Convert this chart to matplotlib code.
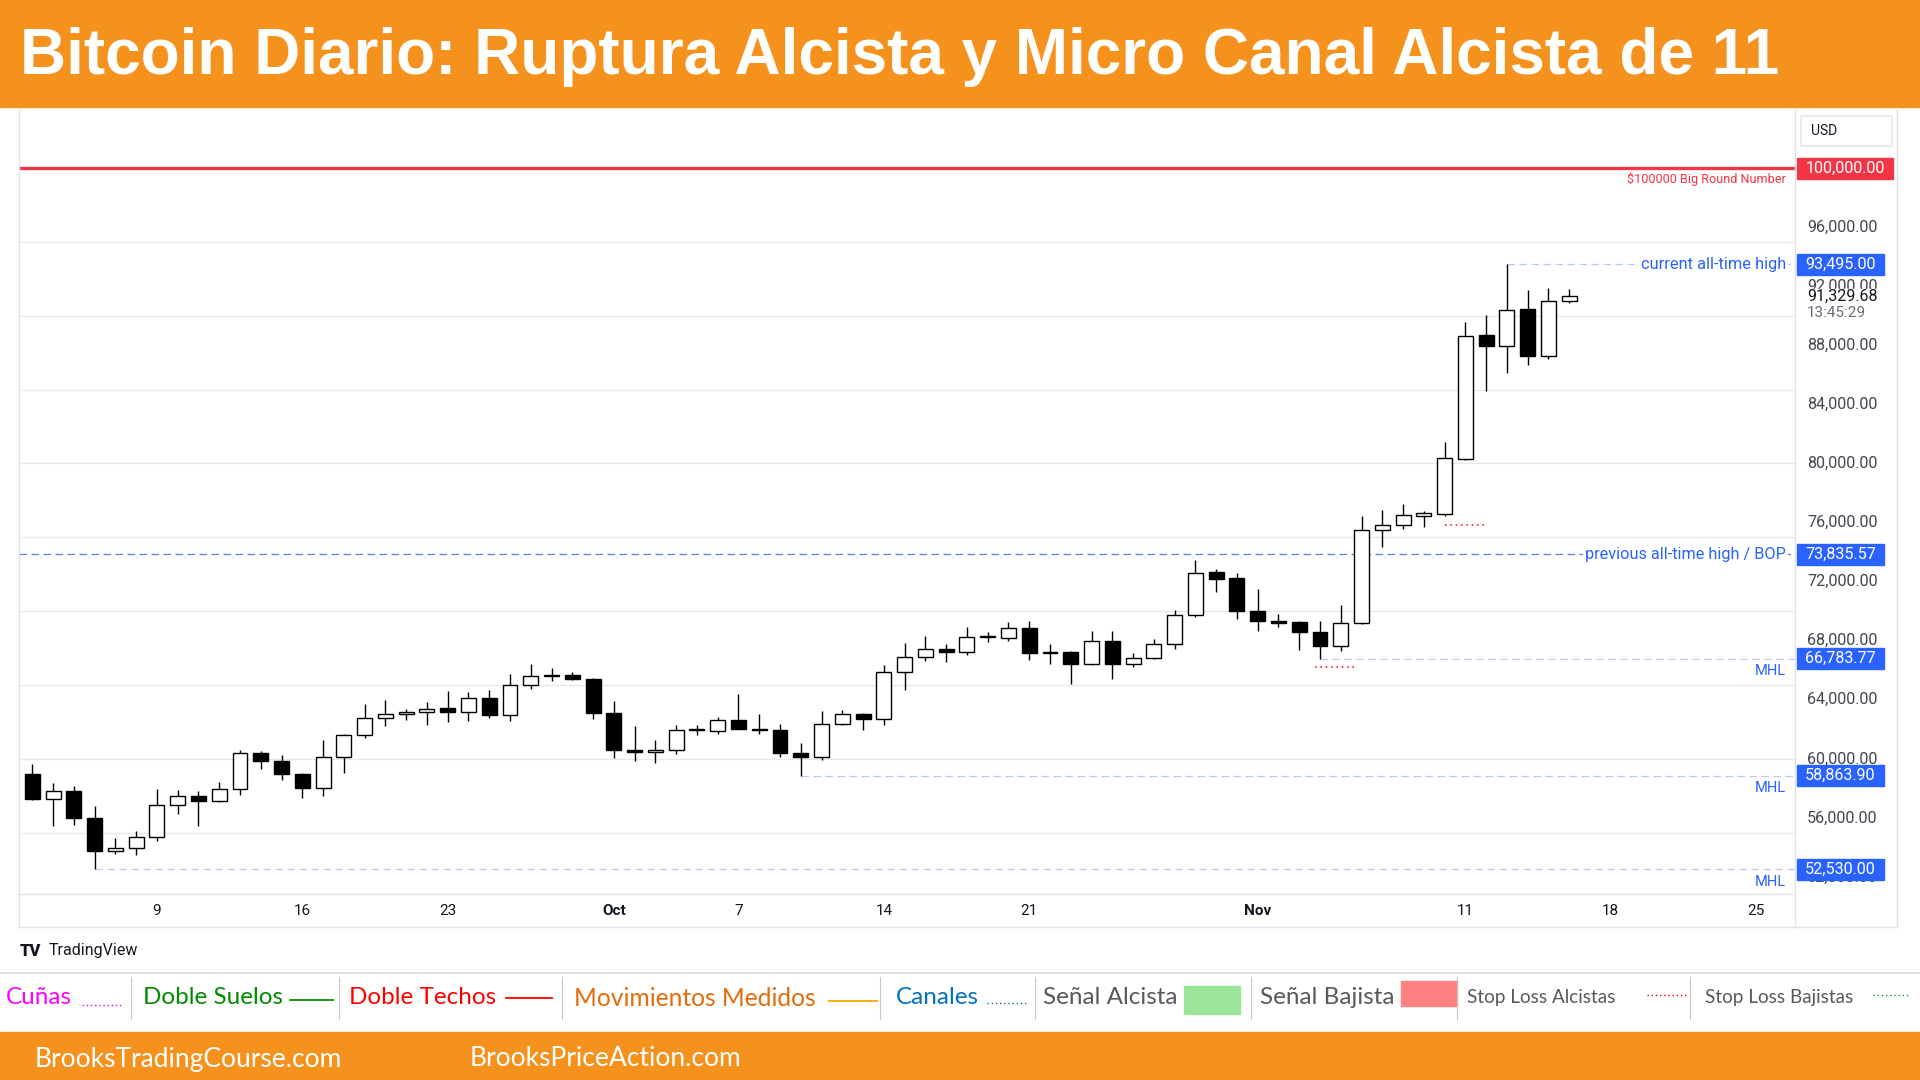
import numpy as np
import pandas as pd
import matplotlib
matplotlib.use("Agg")
import matplotlib.pyplot as plt
from matplotlib.patches import Rectangle, FancyBboxPatch
from matplotlib.lines import Line2D

plt.rcParams['font.family'] = ['Roboto', 'DejaVu Sans']

# Daily BTC candles, Sep 3 -> Nov 16 2024
start_date = "2024-09-03"
opens = [59000, 57260, 57820, 56010, 53750, 53940, 54700, 56870, 57480, 57150,
         57940, 60420, 59860, 59000, 58030, 60130, 61620, 62770, 63070, 63160,
         63470, 63180, 64150, 62950, 65000, 65620, 65700, 65440, 63130, 60620,
         60470, 60600, 61960, 61890, 62640, 62050, 61960, 60380, 60130, 62370,
         63050, 62710, 65890, 66910, 67450, 67250, 68270, 68200, 68860, 67160,
         67250, 66420, 68000, 66420, 66820, 67770, 69760, 72630, 72220, 70030,
         69350, 69240, 68610, 67660, 69200, 75520, 75800, 76470, 76590, 80320,
         88680, 87940, 90440, 87260, 90990]
highs = [59670, 58390, 58160, 56810, 54660, 55110, 57980, 57890, 57820, 58450,
         60580, 60500, 60260, 59060, 61260, 61700, 63740, 63990, 63360, 63880,
         64600, 64560, 64670, 65740, 66420, 66120, 65910, 65500, 63930, 62230,
         61280, 62320, 62300, 62860, 64380, 63070, 62350, 61060, 63250, 63340,
         63100, 66370, 67810, 68290, 67770, 68900, 68610, 69240, 69350, 67770,
         67300, 68670, 68630, 67160, 68110, 70100, 73470, 72860, 72560, 71500,
         69810, 69300, 69310, 70440, 76410, 76880, 77270, 76810, 81450, 89580,
         90040, 93495, 91730, 91890, 91780]
lows = [57200, 55450, 55520, 52530, 53570, 53480, 54430, 56240, 55450, 57100,
        57550, 59300, 58550, 57330, 57480, 59020, 61440, 62210, 62620, 62300,
        62500, 62570, 62790, 62570, 64720, 65240, 65330, 62690, 60040, 59860,
        59700, 60310, 61600, 61670, 62000, 61710, 60130, 58864, 59900, 62300,
        61940, 62300, 64650, 66640, 66590, 67030, 67930, 68000, 66710, 66420,
        65060, 66350, 65400, 66230, 66750, 67430, 69580, 71320, 69470, 68630,
        68900, 67370, 66784, 67320, 69100, 74370, 75570, 75730, 76470, 80200,
        84900, 86150, 86650, 87050, 90830]
closes = [57260, 57820, 55970, 53750, 53940, 54700, 56870, 57480, 57150, 57980,
          60420, 59860, 58960, 58030, 60130, 61620, 62770, 63070, 63200, 63380,
          63180, 64150, 62980, 65010, 65620, 65680, 65400, 63110, 60600, 60470,
          60620, 61960, 62000, 62640, 62050, 61940, 60380, 60130, 62370, 63050,
          62710, 65890, 66910, 67450, 67250, 68270, 68350, 68860, 67160, 67250,
          66420, 68000, 66420, 66820, 67770, 69760, 72590, 72180, 70030, 69350,
          69200, 68610, 67660, 69200, 75520, 75800, 76520, 76660, 80340, 88660,
          87940, 90380, 87260, 90990, 91329.68]

date_ticks = ["9", "16", "23", "Oct", "7", "14", "21", "Nov", "11", "18", "25"]
date_tick_days = ["2024-09-09", "2024-09-16", "2024-09-23", "2024-10-01", "2024-10-07",
                  "2024-10-14", "2024-10-21", "2024-11-01", "2024-11-11", "2024-11-18",
                  "2024-11-25"]
price_ticks = [52000, 56000, 60000, 64000, 68000, 72000, 76000, 80000, 84000, 88000, 92000, 96000]
grid_levels = [55000, 60000, 65000, 70000, 75000, 80000, 85000, 90000, 95000]

round_number = 100000
prev_ath = 73835.57
curr_ath = 93495.00
last_price = 91329.68
mhl_levels = [52530.00, 58863.90, 66783.77]
mhl_dates = ["2024-09-06", "2024-10-10", "2024-11-04"]
stop_levels = [66200, 75810]
stop_spans = [(61.75, 63.7), (68.0, 69.9)]

ORANGE = '#F5921E'
BLUE = '#2962FF'
RED = '#F23645'
GRID = '#E6E8EE'
BORDER = '#E0E3EB'

W, H = 1920, 1080
def fx(x): return x / W
def fy(y): return 1 - y / H
def fline(x0, y0, x1, y1, **kw):
    fig.add_artist(Line2D([fx(x0), fx(x1)], [fy(y0), fy(y1)], transform=fig.transFigure, **kw))

dates = pd.date_range(start_date, periods=len(opens), freq='D')
t0 = dates[0]
def day_idx(d): return (pd.Timestamp(d) - t0).days

o = np.array(opens, float); h = np.array(highs, float)
l = np.array(lows, float); c = np.array(closes, float)
x = np.arange(len(o))

fig = plt.figure(figsize=(19.2, 10.8), dpi=100)
fig.patch.set_facecolor('white')

# header bar
fig.add_artist(Rectangle((0, fy(107)), 1, 107 / H, transform=fig.transFigure, color=ORANGE, zorder=0))
fig.text(fx(20), fy(57), "Bitcoin Diario: Ruptura Alcista y Micro Canal Alcista de 11",
         color='white', fontsize=46, fontweight='bold', family='Liberation Sans', va='center')

# main price pane
XMIN, XMAX = -0.64, 84.87
YMIN, YMAX = 50850, 103930
ax = fig.add_axes([fx(19), fy(894), (1795 - 19) / W, (894 - 110) / H])
ax.set_xlim(XMIN, XMAX)
ax.set_ylim(YMIN, YMAX)
for s in ax.spines.values():
    s.set_visible(False)
ax.set_yticks([])
ax.set_xticks([day_idx(d) for d in date_tick_days])
ax.set_xticklabels(date_ticks)
ax.tick_params(axis='x', length=0, pad=7, labelsize=11, labelcolor='#131722')
for lab in ax.get_xticklabels():
    if lab.get_text() in ("Oct", "Nov"):
        lab.set_fontweight('bold')

for g in grid_levels:
    ax.axhline(g, color=GRID, lw=1, zorder=0)

# candles
up = c >= o
bottoms = np.minimum(o, c)
heights = np.maximum(np.abs(c - o), 60)
ax.vlines(x, l, h, color='black', lw=1.0, zorder=2)
ax.bar(x, heights, bottom=bottoms, width=0.72, color=np.where(up, 'white', 'black'),
       edgecolor='black', linewidth=1.0, zorder=3)

# $100k line
ax.axhline(round_number, color=RED, lw=2.4, zorder=4)
ax.annotate("$100000 Big Round Number", xy=(84.43, round_number), xytext=(0, -8),
            textcoords='offset points', ha='right', va='center', fontsize=9.1, color=RED)

# previous ATH / BOP
ax.hlines(prev_ath, XMIN, XMAX, color='#5A7BF7', lw=0.9, linestyles=(0, (6, 3.6)), zorder=1)
ax.text(84.43, prev_ath, "previous all-time high / BOP", ha='right', va='center', fontsize=11.7,
        color=BLUE, zorder=5, bbox=dict(facecolor='white', edgecolor='none', pad=1.5))

# current ATH
ax.hlines(curr_ath, day_idx("2024-11-13"), XMAX, color='#BCC9F5', lw=0.9,
          linestyles=(0, (6, 3.6)), zorder=1)
ax.text(84.43, curr_ath, "current all-time high", ha='right', va='center', fontsize=11.8,
        color=BLUE, zorder=5, bbox=dict(facecolor='white', edgecolor='none', pad=1.5))

# major higher lows
for lvl, d in zip(mhl_levels, mhl_dates):
    ax.hlines(lvl, day_idx(d), XMAX, color='#BCC9F5', lw=0.9, linestyles=(0, (6, 3.6)), zorder=1)
    ax.annotate("MHL", xy=(84.43, lvl), xytext=(0, -9), textcoords='offset points',
                ha='right', va='center', fontsize=10.5, color=BLUE)

# bull stop-loss markers
for lvl, (a, b) in zip(stop_levels, stop_spans):
    ax.hlines(lvl, a, b, color='red', lw=1.1, linestyles=(0, (1, 2.5)), zorder=1)

# price scale pane
axr = fig.add_axes([fx(1795), fy(894), 102 / W, (894 - 110) / H])
axr.set_xlim(0, 1)
axr.set_ylim(YMIN, YMAX)
axr.axis('off')
PX = (YMAX - YMIN) / 784.0

for p in price_ticks:
    axr.text(0.118, p, f"{p:,.2f}", ha='left', va='center', fontsize=11.6, color='#434651', zorder=2)

# live price (covers the 92,000 label partially)
axr.add_patch(Rectangle((0.0, last_price - 25 * PX), 1.0, 32 * PX, color='white', zorder=3))
axr.text(0.118, last_price, f"{last_price:,.2f}", ha='left', va='center', fontsize=11.6,
         color='#131722', zorder=4)
axr.text(0.118, last_price - 17 * PX, "13:45:29", ha='left', va='center', fontsize=11,
         color='#6A6D78', zorder=4)

tags = [(round_number, RED, 0.96)] + [(v, BLUE, 0.87) for v in [curr_ath, prev_ath] + mhl_levels]
for v, col, right in tags:
    axr.add_patch(Rectangle((0.02, v - 10.5 * PX), right - 0.02, 21 * PX, color=col, zorder=5))
    axr.text(0.02 + (right - 0.02) / 2, v, f"{v:,.2f}", ha='center', va='center', fontsize=11.6,
             color='white', zorder=6)

axr.add_patch(FancyBboxPatch((0.06, YMAX - 36 * PX), 0.89, 30 * PX,
                             boxstyle="round,pad=0,rounding_size=0.05", facecolor='white',
                             edgecolor='#E0E3EB', lw=1, mutation_aspect=PX))
axr.text(0.16, YMAX - 21 * PX, "USD", ha='left', va='center', fontsize=10, color='#131722')

# panel borders
fline(19, 108, 19, 927, color=BORDER, lw=1)
fline(19, 927, 1897, 927, color=BORDER, lw=1)
fline(1897, 108, 1897, 927, color=BORDER, lw=1)
fline(1795, 108, 1795, 927, color=BORDER, lw=1)
fline(19, 894, 1795, 894, color=BORDER, lw=1)

# TradingView mark
fig.text(fx(20), fy(951), "TV", fontsize=12, fontweight='heavy', color='#131722', va='center')
fig.text(fx(49), fy(951), "TradingView", fontsize=11.5, color='#131722', va='center')

# legend strip
fline(0, 973, 1920, 973, color='#D9D9D9', lw=1.2)
for sx in [131, 339, 562, 880, 1035, 1251, 1457, 1690]:
    fline(sx, 977, sx, 1019, color='#C8C8C8', lw=0.8)

LF = 'Lato'
legend_items = [
    (6, "Cuñas", '#FF00FF', 17.5), (143, "Doble Suelos", '#008C00', 17.5),
    (349, "Doble Techos", '#FF0000', 17.5), (574, "Movimientos Medidos", '#E46C0A', 17.7),
    (896, "Canales", '#0070C0', 17.5), (1043, "Señal Alcista", '#595959', 17.5),
    (1260, "Señal Bajista", '#595959', 17.5), (1467, "Stop Loss Alcistas", '#595959', 13.6),
    (1705, "Stop Loss Bajistas", '#595959', 13.6),
]
for lx, txt, col, fs in legend_items:
    fig.text(fx(lx), fy(998), txt, color=col, fontsize=fs, family=LF, va='center')

fline(82, 1005, 122, 1005, color='#FF00FF', lw=1, ls=(0, (1, 2)))
fline(290, 1000, 333, 1000, color='#008C00', lw=1.3)
fline(506, 998, 552, 998, color='#FF0000', lw=1.3)
fline(829, 1001, 877, 1001, color='#FFA500', lw=1.3)
fline(987, 1003, 1026, 1003, color='#0070C0', lw=1, ls=(0, (1, 2)))
fline(1647, 995, 1687, 995, color='#FF0000', lw=1, ls=(0, (1, 2)))
fline(1873, 995, 1910, 995, color='#00B000', lw=1, ls=(0, (1, 2)))
fig.add_artist(Rectangle((fx(1184), fy(1014)), 56 / W, 28 / H, transform=fig.transFigure,
                         color='#9BE69B'))
fig.add_artist(Rectangle((fx(1401), fy(1006)), 56 / W, 25 / H, transform=fig.transFigure,
                         color='#FF8080'))

# footer bar
fig.add_artist(Rectangle((0, 0), 1, (1080 - 1032) / H, transform=fig.transFigure, color=ORANGE))
fig.text(fx(35), fy(1059), "BrooksTradingCourse.com", color='white', fontsize=19, family=LF, va='center')
fig.text(fx(470), fy(1059), "BrooksPriceAction.com", color='white', fontsize=19, family=LF, va='center')

fig.savefig("out.png", dpi=100)
